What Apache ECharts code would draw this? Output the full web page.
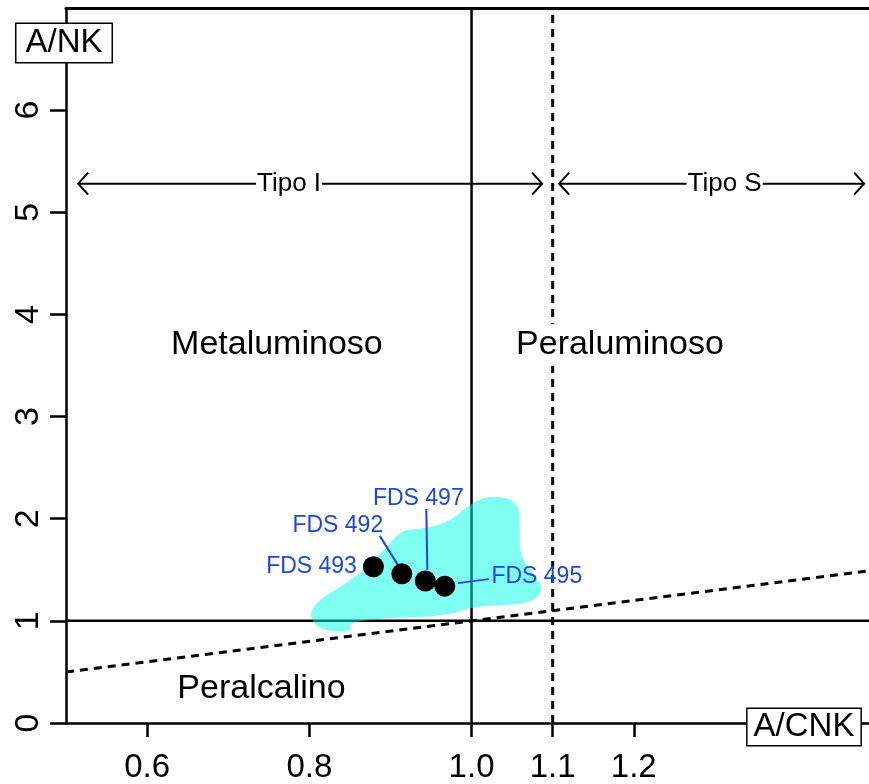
<!DOCTYPE html>
<html><head><meta charset="utf-8">
<script src="https://cdn.jsdelivr.net/npm/echarts@6/dist/echarts.min.js"></script>
<style>html,body{margin:0;padding:0;background:#fff}#c{width:869px;height:784px}</style>
</head><body><div id="c"></div>
<script>
// ---- data ----
const xTickValues = [0.6, 0.8, 1.0, 1.1, 1.2];
const yTickValues = [0, 1, 2, 3, 4, 5, 6];
const sampleNames = ['FDS 493', 'FDS 492', 'FDS 497', 'FDS 495'];
const sampleACNK = [0.879, 0.914, 0.943, 0.967];
const sampleANK = [1.53, 1.46, 1.39, 1.34];
const fieldACNK = [1.004, 1.021, 1.046, 1.058, 1.059, 1.062, 1.078, 1.086, 1.078, 1.058, 1.021, 0.996, 0.975, 0.947, 0.893, 0.852, 0.849, 0.815, 0.802, 0.811, 0.840, 0.873, 0.893, 0.914, 0.935, 0.954, 0.975, 0.991];
const fieldANK  = [2.162, 2.210, 2.191, 2.093, 1.899, 1.636, 1.441, 1.315, 1.217, 1.168, 1.149, 1.120, 1.071, 1.042, 1.022, 0.974, 0.906, 0.925, 1.052, 1.188, 1.344, 1.538, 1.704, 1.870, 1.899, 1.928, 1.996, 2.093];
const regionNames = ['Metaluminoso', 'Peraluminoso', 'Peralcalino'];
const regionACNK = [0.760, 1.183, 0.741];
const regionANK = [3.70, 3.70, 0.34];
const typeNames = ['Tipo I', 'Tipo S'];
const typeFrom = [0.515, 1.108];
const typeTo = [1.087, 1.484];
const typeLabelAt = [0.775, 1.312];
const typeANK = 5.28;
const solidLines = [[[1.0, 0], [1.0, 7]], [[0.5, 1], [1.49, 1]]];
const dashedLines = [[[1.1, 0], [1.1, 7]], [[0.5, 0.5], [1.49, 1.49]]];
const xName = 'A/CNK';
const yName = 'A/NK';

// ---- styles ----
const FONT = '"Liberation Sans", Arial, Helvetica, sans-serif';
const BLUE = '#1f44ee';
const labelStyles = [
  { position: 'left', distance: 6 },
  { position: 'inside', offset: [-64, -48] },
  { position: 'inside', offset: [-7, -82] },
  { position: 'inside', offset: [92, -9] }
];
const leaderOffsets = [
  null,
  [[-22, -38], [-4, -9]],
  [[1, -72], [2, -11]],
  [[13, -3], [44, -7]]
];

const chart = echarts.init(document.getElementById('c'), null, { renderer: 'canvas' });

const lineSeries = [];
solidLines.forEach(seg => lineSeries.push({
  type: 'line', data: seg, symbol: 'none', silent: true, z: 1,
  lineStyle: { color: '#000', width: 2.5, type: 'solid' }
}));
dashedLines.forEach(seg => lineSeries.push({
  type: 'line', data: seg, symbol: 'none', silent: true, z: 1,
  lineStyle: { color: '#000', width: 3, type: [8, 6] }
}));

const fieldPoints = fieldACNK.map((x, i) => [x, fieldANK[i]]);

const option = {
  animation: false,
  backgroundColor: '#fff',
  textStyle: { fontFamily: FONT },
  grid: { left: 66, right: 0, top: 8, bottom: 59, containLabel: false },
  xAxis: [{
    type: 'value', min: 0.5, max: 1.49, position: 'bottom',
    axisLine: { show: true, onZero: false, lineStyle: { color: '#000', width: 2.5 } },
    axisTick: { show: true, customValues: xTickValues, length: 14, inside: false, lineStyle: { color: '#000', width: 2.5 } },
    axisLabel: { show: true, customValues: xTickValues, formatter: v => v.toFixed(1), color: '#000', fontSize: 33, margin: 28, fontFamily: FONT },
    splitLine: { show: false }
  }, {
    type: 'value', min: 0.5, max: 1.49, position: 'top',
    axisLine: { show: true, onZero: false, lineStyle: { color: '#000', width: 3 } },
    axisTick: { show: false }, axisLabel: { show: false }, splitLine: { show: false }
  }],
  yAxis: {
    type: 'value', min: 0, max: 7, interval: 1,
    axisLine: { show: true, onZero: false, lineStyle: { color: '#000', width: 2.5 } },
    axisTick: { show: true, customValues: yTickValues, length: 16, lineStyle: { color: '#000', width: 2.5 } },
    axisLabel: { show: true, customValues: yTickValues, rotate: 90, color: '#000', fontSize: 34, margin: 20, fontFamily: FONT },
    splitLine: { show: false }
  },
  graphic: [
    { type: 'text', x: 64, y: 43, z: 100,
      style: { text: yName, font: '33px ' + FONT, fill: '#000', align: 'center', verticalAlign: 'middle',
        backgroundColor: '#fff', borderColor: '#000', borderWidth: 1.5, padding: [3, 9, 2, 9] } },
    { type: 'text', x: 804, y: 727, z: 100,
      style: { text: xName, font: '33px ' + FONT, fill: '#000', align: 'center', verticalAlign: 'middle',
        backgroundColor: '#fff', borderColor: '#000', borderWidth: 1.5, padding: [2, 6, 1, 6] } }
  ],
  series: lineSeries.concat([
    {
      type: 'custom', z: 2, silent: true, data: fieldPoints, clip: false,
      renderItem: function (params, api) {
        if (params.dataIndex !== 0) return null;
        const pts = fieldPoints.map(p => api.coord(p));
        return { type: 'polygon', shape: { points: pts, smooth: 0.35 },
          style: { fill: 'rgba(0,255,230,0.5)', stroke: null } };
      }
    },
    {
      type: 'custom', z: 3, silent: true, data: typeNames.map((n, i) => [typeFrom[i], typeANK]),
      renderItem: function (params, api) {
        const i = params.dataIndex;
        const a = api.coord([typeFrom[i], typeANK]);
        const b = api.coord([typeTo[i], typeANK]);
        const c = api.coord([typeLabelAt[i], typeANK]);
        const h = 10, w = 11;
        return { type: 'group', children: [
          { type: 'line', shape: { x1: a[0], y1: a[1], x2: b[0], y2: b[1] }, style: { stroke: '#000', lineWidth: 2 } },
          { type: 'polyline', shape: { points: [[a[0] + h, a[1] - w], [a[0], a[1]], [a[0] + h, a[1] + w]] }, style: { stroke: '#000', lineWidth: 2, fill: null } },
          { type: 'polyline', shape: { points: [[b[0] - h, b[1] - w], [b[0], b[1]], [b[0] - h, b[1] + w]] }, style: { stroke: '#000', lineWidth: 2, fill: null } },
          { type: 'text', x: c[0], y: c[1], z2: 10, style: { text: typeNames[i], font: '26px ' + FONT, fill: '#000', align: 'center', verticalAlign: 'middle', textAlign: 'center', textVerticalAlign: 'middle', backgroundColor: '#fff', padding: [0, 1] } }
        ] };
      }
    },
    {
      type: 'custom', z: 4, silent: true, data: sampleACNK.map((x, i) => [x, sampleANK[i]]),
      renderItem: function (params, api) {
        const i = params.dataIndex;
        const off = leaderOffsets[i];
        if (!off) return null;
        const p = api.coord([sampleACNK[i], sampleANK[i]]);
        return { type: 'line', shape: { x1: p[0] + off[0][0], y1: p[1] + off[0][1], x2: p[0] + off[1][0], y2: p[1] + off[1][1] },
          style: { stroke: BLUE, lineWidth: 2 } };
      }
    },
    {
      type: 'scatter', z: 5, silent: true, symbol: 'circle', symbolSize: 21,
      itemStyle: { color: '#000', opacity: 1 },
      data: sampleNames.map((n, i) => ({
        name: n, value: [sampleACNK[i], sampleANK[i]],
        label: Object.assign({ show: true, formatter: n, color: BLUE, fontSize: 23, fontFamily: FONT, opacity: 1 }, labelStyles[i])
      }))
    },
    {
      type: 'scatter', z: 6, silent: true, symbolSize: 0, itemStyle: { opacity: 1 },
      data: regionNames.map((n, i) => ({ name: n, value: [regionACNK[i], regionANK[i]] })),
      label: { show: true, position: 'inside', formatter: p => p.name, color: '#000', opacity: 1, fontSize: 34, fontFamily: FONT,
        backgroundColor: '#fff', padding: [4, 2] }
    }
  ])
};
chart.setOption(option);
</script>
</body></html>
